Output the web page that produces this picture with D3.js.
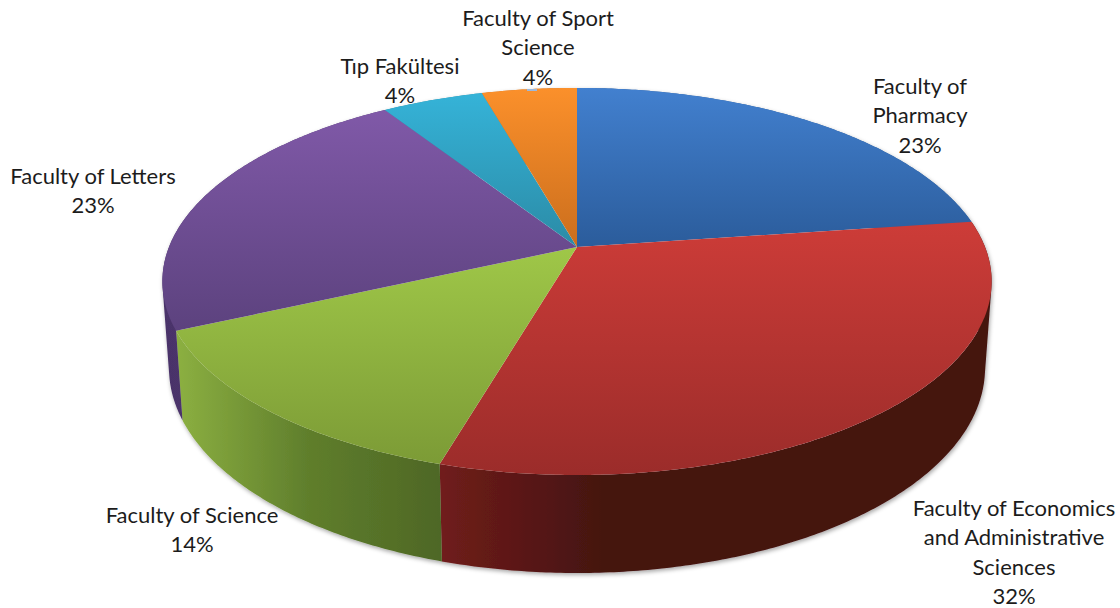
<!DOCTYPE html>
<html>
<head>
<meta charset="utf-8">
<script src="https://cdn.jsdelivr.net/npm/d3@7"></script>
<style>
  body { margin: 0; background: #fff; }
  text { font-family: Lato, "Open Sans", sans-serif; font-size: 22px; fill: #1c1c1c; }
</style>
</head>
<body>
<div id="chart"></div>
<script>
// Data (the shares are a bit finer than the printed labels)
const categories = ["Faculty of Pharmacy", "Faculty of Economics and Administrative Sciences",
  "Faculty of Science", "Faculty of Letters", "Tıp Fakültesi", "Faculty of Sport Science"];
const shares = [22.8, 31.7, 13.7, 22.7, 4.7, 4.4];
const percentLabels = ["23%", "32%", "14%", "23%", "4%", "4%"];

// How the category names wrap, and where each label block sits
const labelLines = [["Faculty of", "Pharmacy"], ["Faculty of Economics", "and Administrative", "Sciences"],
  ["Faculty of Science"], ["Faculty of Letters"], ["Tıp Fakültesi"], ["Faculty of Sport", "Science"]];
const labelAnchors = [[920, 94], [1014, 516], [192, 523], [93, 184], [400, 74], [538, 26]];
const lineHeight = 29.3;

// Colours: top surface (light, dark) and side wall (left, middle, right)
const topColors = [["#4280cf", "#2b5c9b"], ["#cd3c38", "#9b2c2a"], ["#9fc748", "#7c9b36"],
  ["#8059a8", "#5c427e"], ["#35b3d8", "#2b8ba6"], ["#fb902b", "#cb6e1d"]];
const wallColors = [["#2b5c9b", "#2b5c9b", "#2b5c9b"], ["#701d1b", "#441210", "#441210"],
  ["#8cb041", "#5f7e2c", "#4e6725"], ["#4a3369", "#4f3770", "#543b76"],
  ["#2b8ba6", "#2b8ba6", "#2b8ba6"], ["#cb6e1d", "#cb6e1d", "#cb6e1d"]];
const wallMidStops = [0.5, 0.3, 0.5, 0.5, 0.5, 0.5];

const width = 1120;
const height = 608;

// The pie is a tilted disc, so the centre sits above the middle of the ellipse
const cx = 577;
const perspective = 0.178;
const topFace = { A: 408, B: 187.4, py: 247 };
const bottomFace = { A: 401.5, B: 198.5, py: 331.5 };

function project(face, angle) {
  const u = Math.sin(angle);
  const v = -Math.cos(angle);
  const w = 1 - perspective * v;
  return [cx + face.A * u / w, face.py + face.B * v / w];
}

function arcPoints(face, a0, a1) {
  const n = Math.ceil((a1 - a0) / 0.01);
  return d3.range(n + 1).map(i => project(face, a0 + (a1 - a0) * i / n));
}

const svg = d3.select("#chart")
  .append("svg")
  .attr("width", width)
  .attr("height", height);

const defs = svg.append("defs");

const shadow = defs.append("filter")
  .attr("id", "edgeShadow")
  .attr("x", "-5%").attr("y", "-5%")
  .attr("width", "110%").attr("height", "110%");
shadow.append("feDropShadow")
  .attr("dx", 1).attr("dy", 2)
  .attr("stdDeviation", 2)
  .attr("flood-color", "#000")
  .attr("flood-opacity", 0.35);

const pie = d3.pie().sort(null).value(d => d);
const slices = pie(shares);
const line = d3.line();

// Gradients for each slice
slices.forEach((s, i) => {
  const top = defs.append("linearGradient")
    .attr("id", `top${i}`)
    .attr("x1", 0).attr("y1", 0).attr("x2", 0).attr("y2", 1);
  top.append("stop").attr("offset", 0).attr("stop-color", topColors[i][0]);
  top.append("stop").attr("offset", 1).attr("stop-color", topColors[i][1]);

  const wall = defs.append("linearGradient")
    .attr("id", `wall${i}`)
    .attr("x1", 0).attr("y1", 0).attr("x2", 1).attr("y2", 0);
  wall.append("stop").attr("offset", 0).attr("stop-color", wallColors[i][0]);
  wall.append("stop").attr("offset", wallMidStops[i]).attr("stop-color", wallColors[i][1]);
  wall.append("stop").attr("offset", 1).attr("stop-color", wallColors[i][2]);
});

// A wall is a strip of small quads between the two rims, all wound the same way
// so the strip still fills where it folds round the side of the disc
function wallPath(s) {
  const rim = arcPoints(topFace, s.startAngle, s.endAngle);
  const base = arcPoints(bottomFace, s.startAngle, s.endAngle);
  return d3.range(rim.length - 1).map(i => {
    const quad = [rim[i], rim[i + 1], base[i + 1], base[i]];
    if (d3.polygonArea(quad) < 0) quad.reverse();
    return line(quad) + "Z";
  }).join("");
}

// Side walls first, the top surface is painted over them
svg.append("g")
  .attr("filter", "url(#edgeShadow)")
  .selectAll("path")
  .data(slices)
  .join("path")
  .attr("d", wallPath)
  .attr("fill", (s, i) => `url(#wall${i})`);

// Top surface
svg.append("g")
  .selectAll("path")
  .data(slices)
  .join("path")
  .attr("d", s => {
    const rim = arcPoints(topFace, s.startAngle, s.endAngle);
    return line([[cx, topFace.py]].concat(rim)) + "Z";
  })
  .attr("fill", (s, i) => `url(#top${i})`);

// The tiny leader stub under the sport label
svg.append("rect")
  .attr("x", labelAnchors[5][0] - 11)
  .attr("y", 89)
  .attr("width", 10)
  .attr("height", 2)
  .attr("fill", "#9db9dc");

// Labels
const labels = svg.append("g")
  .selectAll("text")
  .data(categories)
  .join("text")
  .attr("text-anchor", "middle")
  .attr("y", (d, i) => labelAnchors[i][1]);

labels.selectAll("tspan")
  .data((d, i) => labelLines[i].concat(percentLabels[i]).map(t => ({ t, x: labelAnchors[i][0] })))
  .join("tspan")
  .attr("x", d => d.x)
  .attr("dy", (d, j) => j === 0 ? 0 : lineHeight)
  .text(d => d.t);
</script>
</body>
</html>
